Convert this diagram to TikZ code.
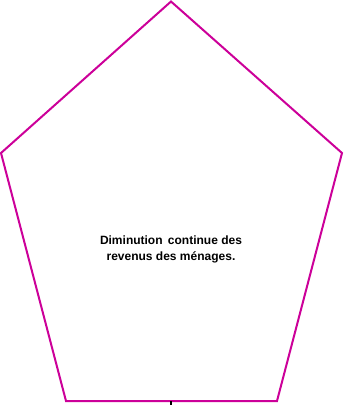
\documentclass[tikz,border=0pt]{standalone}
\usepackage{fontspec}
\setmainfont{Liberation Sans}
\usepackage{xcolor}
\usepackage{tikz}
\usetikzlibrary{positioning}
\definecolor{bordpent}{RGB}{204,0,153}
\tikzset{
  pentagone/.style={draw=bordpent, line width=1.5pt, line join=miter},
  texte/.style={align=center, font=\fontsize{9}{12}\selectfont\bfseries, inner sep=1pt},
  trait/.style={draw=black, line width=1pt},
}

\begin{document}
\begin{tikzpicture}[x=0.75pt, y=-0.75pt]
  \useasboundingbox (0,0) rectangle (352,405);
  % sommets du pentagone
  \coordinate (haut) at (171,1.5);
  \coordinate (droite) at (342,153);
  \coordinate (basdroite) at (277,401);
  \coordinate (basgauche) at (66,401);
  \coordinate (gauche) at (1,153);
  \draw[pentagone] (haut) -- (droite) -- (basdroite) -- (basgauche) -- (gauche) -- cycle;
  % texte central
  \node[texte] (diminution) at (171,249) {Diminution\ \,continue des\\revenus des ménages.};
  % amorce du lien vers le bas
  \coordinate (milieubas) at (171,401);
  \coordinate (sortie) at (171,406);
  \draw[trait] (milieubas) -- (sortie);
\end{tikzpicture}
\end{document}
